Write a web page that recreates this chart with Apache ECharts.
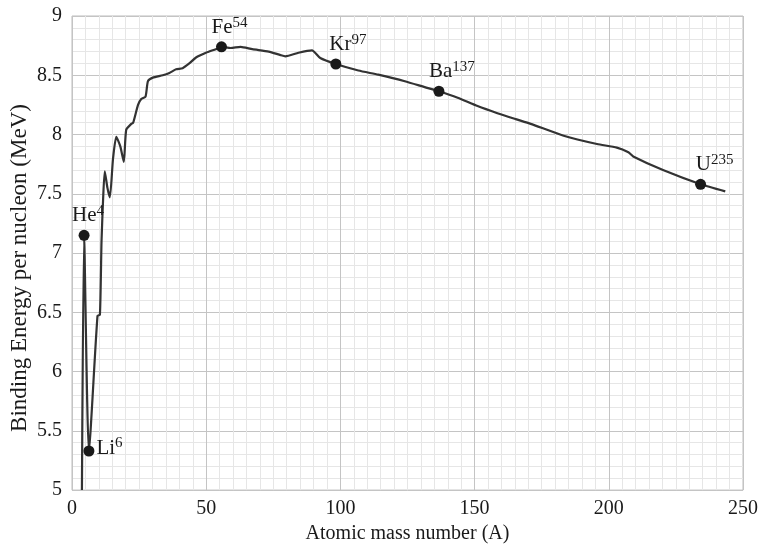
<!DOCTYPE html>
<html>
<head>
<meta charset="utf-8">
<script src="https://cdn.jsdelivr.net/npm/echarts@6/dist/echarts.min.js"></script>
<style>
html,body{margin:0;padding:0;background:#fff;}
#c{width:761px;height:549px;}
</style>
</head>
<body>
<div id="c"></div>
<script>
// Binding energy curve: [mass number A, MeV per nucleon]
const curveA = [3.7,4.5,6.3,9.5,10.4,11.0,11.6,12.2,13.2,14.1,15.3,16.5,18.0,19.3,20.2,22.1,22.8,24.6,25.8,27.4,28.3,30.1,33.8,36.3,38.8,41.2,43.7,46.2,49.9,53.6,55.7,59.1,62.8,67.2,73.3,77.7,79.5,84.4,89.4,92.5,98.3,106.7,114.1,124.0,131.4,136.7,143.7,151.1,158.5,165.3,170.9,183.2,195.6,203.0,207.3,209.1,220.2,234.2,243.4];
const curveE = [5.0,7.15,5.33,6.47,6.48,7.1,7.46,7.69,7.55,7.47,7.8,7.98,7.9,7.77,8.04,8.09,8.1,8.25,8.30,8.32,8.45,8.48,8.50,8.52,8.55,8.56,8.60,8.65,8.69,8.72,8.74,8.73,8.74,8.72,8.70,8.67,8.66,8.69,8.71,8.645,8.595,8.54,8.505,8.45,8.40,8.365,8.31,8.24,8.18,8.13,8.09,7.99,7.92,7.89,7.85,7.815,7.70,7.58,7.52];

// Marked nuclides
const nuclideSymbol = ['He','Li','Fe','Kr','Ba','U'];
const nuclideMass = ['4','6','54','97','137','235'];
const nuclideA = [4.5,6.3,55.7,98.3,136.7,234.2];
const nuclideE = [7.15,5.33,8.74,8.595,8.365,7.58];

// Axis ticks
const xTicks = [0,50,100,150,200,250];
const yTicks = [5,5.5,6,6.5,7,7.5,8,8.5,9];

// label placement (style only)
const labelPlace = [
  {position:'top', offset:[4,0]},
  {position:'right', offset:[0,-3]},
  {position:'top', offset:[8,0]},
  {position:'top', offset:[12,0]},
  {position:'top', offset:[13,0]},
  {position:'top', offset:[14,0]}
];

const FONT = '"Liberation Serif","Times New Roman",serif';
const chart = echarts.init(document.getElementById('c'), null, {renderer:'canvas'});

const lineData = curveA.map((a,i)=>[a, curveE[i]]);
const dotData = nuclideA.map((a,i)=>({
  value:[a, nuclideE[i]],
  name: nuclideSymbol[i],
  label:{show:true, position:labelPlace[i].position, offset:labelPlace[i].offset, distance:2,
    formatter:'{n|'+nuclideSymbol[i]+'}{s|'+nuclideMass[i]+'}'}
}));

chart.setOption({
  animation:false,
  backgroundColor:'#fff',
  grid:{left:72, right:14, top:16, bottom:56, show:true, borderColor:'#bdbdbd', borderWidth:1},
  xAxis:{
    type:'value', min:xTicks[0], max:xTicks[xTicks.length-1], interval:50,
    name:'Atomic mass number (A)', nameLocation:'middle', nameGap:33,
    nameTextStyle:{fontFamily:FONT, fontSize:20, color:'#1a1a1a'},
    axisLine:{show:false}, axisTick:{show:false},
    axisLabel:{fontFamily:FONT, fontSize:20, color:'#1a1a1a', margin:9},
    splitLine:{show:true, lineStyle:{color:'#c4c4c4', width:1}},
    minorTick:{show:false, splitNumber:10},
    minorSplitLine:{show:true, lineStyle:{color:'#e6e6e6', width:1}}
  },
  yAxis:{
    type:'value', min:yTicks[0], max:yTicks[yTicks.length-1], interval:0.5,
    axisLine:{show:false}, axisTick:{show:false},
    axisLabel:{fontFamily:FONT, fontSize:20, color:'#1a1a1a', margin:10},
    splitLine:{show:true, lineStyle:{color:'#c4c4c4', width:1}},
    minorTick:{show:false, splitNumber:5},
    minorSplitLine:{show:true, lineStyle:{color:'#e6e6e6', width:1}}
  },
  graphic:[{
    type:'text', rotation:Math.PI/2, x:20, y:268,
    style:{text:'Binding Energy per nucleon (MeV)', fontFamily:FONT, fontSize:23, fill:'#1a1a1a',
      align:'center', verticalAlign:'middle'}
  }],
  series:[{
    type:'line', data:lineData, showSymbol:false, smooth:0.2, clip:true,
    lineStyle:{color:'#333', width:2.2}, z:3
  },{
    type:'scatter', data:dotData, symbolSize:11,
    itemStyle:{color:'#1a1a1a', opacity:1}, z:4,
    label:{color:'#1a1a1a', fontFamily:FONT, opacity:1,
      rich:{
        n:{fontFamily:FONT, fontSize:21, color:'#1a1a1a', lineHeight:24},
        s:{fontFamily:FONT, fontSize:15, color:'#1a1a1a', verticalAlign:'top', lineHeight:15}
      }}
  }]
});
</script>
</body>
</html>
